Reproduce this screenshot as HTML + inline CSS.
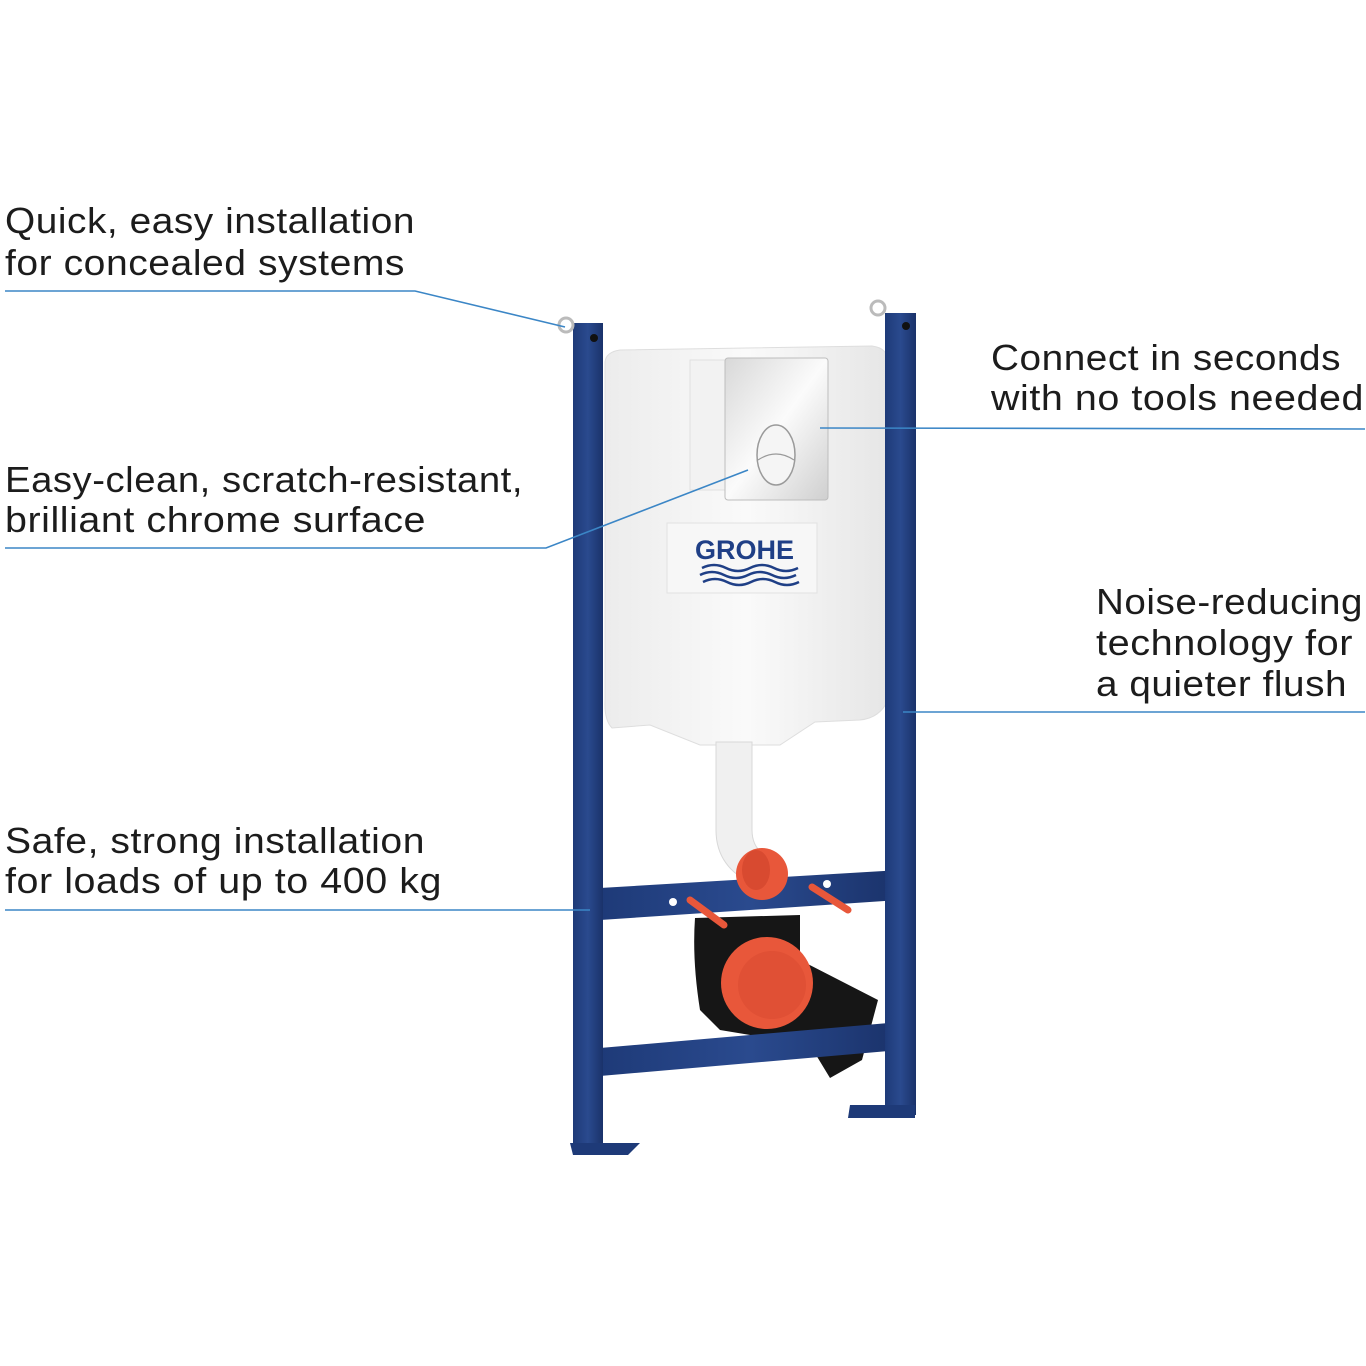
<!DOCTYPE html>
<html><head><meta charset="utf-8"><style>
html,body{margin:0;padding:0;background:#fff;}
svg{display:block;}
text{font-family:"Liberation Sans",sans-serif;font-size:36px;fill:#1c1c1c;letter-spacing:0.5px;}
</style></head><body>
<svg width="1366" height="1366" viewBox="0 0 1366 1366" xmlns="http://www.w3.org/2000/svg">
<rect width="1366" height="1366" fill="#fff"/>
<defs>
<linearGradient id="bar" x1="0" x2="1"><stop offset="0" stop-color="#1e3a78"/><stop offset="0.5" stop-color="#2a4a8e"/><stop offset="1" stop-color="#1a326a"/></linearGradient>
<linearGradient id="cis" x1="0" x2="1"><stop offset="0" stop-color="#ececec"/><stop offset="0.5" stop-color="#fafafa"/><stop offset="1" stop-color="#e6e6e6"/></linearGradient>
<linearGradient id="plate" x1="0" x2="1" y1="0" y2="1"><stop offset="0" stop-color="#d8d8d8"/><stop offset="0.5" stop-color="#fbfbfb"/><stop offset="1" stop-color="#cfcfcf"/></linearGradient>
</defs>
<!-- cistern -->
<path d="M605 362 Q606 352 620 350 L872 346 Q888 348 888 362 L888 700 Q880 718 860 720 L815 722 L780 745 L700 745 L650 725 L612 728 Q604 720 605 700 Z" fill="url(#cis)" stroke="#dedede"/>
<rect x="690" y="360" width="40" height="130" fill="#f2f2f2" stroke="#e0e0e0"/>
<rect x="725" y="358" width="103" height="142" rx="3" fill="url(#plate)" stroke="#bdbdbd"/>
<ellipse cx="776" cy="455" rx="19" ry="30" fill="#f5f5f5" stroke="#9a9a9a" stroke-width="1.5"/>
<path d="M758 460 Q776 448 794 460" fill="none" stroke="#9a9a9a" stroke-width="1.2"/>
<rect x="667" y="523" width="150" height="70" fill="#f7f7f7" stroke="#e2e2e2"/>
<text x="695" y="559" style="font-size:27px;font-weight:bold;fill:#1f3f86;letter-spacing:0">GROHE</text>
<path d="M702 568 q12 -6 24 0 t24 0 t24 0 t24 0 M700 575 q12 -6 24 0 t24 0 t24 0 t24 0 M703 582 q12 -6 24 0 t24 0 t24 0 t24 0" fill="none" stroke="#1f3f86" stroke-width="2.5"/>
<!-- white pipe -->
<path d="M716 742 L752 742 L752 830 Q752 850 770 858 L755 885 Q716 868 716 830 Z" fill="#f0f0f0" stroke="#d8d8d8"/>
<!-- black trap -->
<path d="M695 918 L800 915 L800 960 L878 1000 L862 1060 L830 1078 L810 1045 L720 1030 L700 1010 Q692 960 695 918 Z" fill="#161616"/>
<circle cx="767" cy="983" r="46" fill="#e8573a"/>
<circle cx="772" cy="985" r="34" fill="#d84a30" opacity="0.5"/>
<!-- crossbars -->
<polygon points="600,888 900,870 900,900 600,920" fill="url(#bar)"/>
<polygon points="600,1048 900,1022 900,1050 600,1076" fill="url(#bar)"/>
<circle cx="673" cy="902" r="4" fill="#fff"/><circle cx="827" cy="884" r="4" fill="#fff"/>
<!-- orange cup -->
<circle cx="762" cy="874" r="26" fill="#e8573a"/>
<ellipse cx="756" cy="870" rx="14" ry="20" fill="#d84a30"/>
<line x1="690" y1="900" x2="724" y2="925" stroke="#e8573a" stroke-width="7" stroke-linecap="round"/>
<line x1="812" y1="887" x2="848" y2="910" stroke="#e8573a" stroke-width="7" stroke-linecap="round"/>
<!-- vertical bars -->
<rect x="573" y="323" width="30" height="820" fill="url(#bar)"/>
<rect x="885" y="313" width="31" height="802" fill="url(#bar)"/>
<polygon points="570,1143 640,1143 628,1155 573,1155" fill="#1e3a78"/>
<polygon points="850,1105 915,1105 915,1118 848,1118" fill="#1e3a78"/>
<circle cx="594" cy="338" r="4" fill="#111"/><circle cx="906" cy="326" r="4" fill="#111"/>
<circle cx="566" cy="325" r="7" fill="none" stroke="#bbb" stroke-width="3"/>
<circle cx="878" cy="308" r="7" fill="none" stroke="#bbb" stroke-width="3"/>
<!-- leader lines -->
<g fill="none" stroke="#3b86c6" stroke-width="1.6">
<polyline points="5,291 415,291 565,327"/>
<polyline points="5,548 546,548 748,470"/>
<polyline points="5,910 590,910"/>
<polyline points="1365,429 820,428"/>
<polyline points="1365,712 903,712"/>
</g>
<!-- labels -->
<text x="5" y="233" textLength="410" lengthAdjust="spacingAndGlyphs">Quick, easy installation</text>
<text x="5" y="275" textLength="400" lengthAdjust="spacingAndGlyphs">for concealed systems</text>
<text x="5" y="492" textLength="518" lengthAdjust="spacingAndGlyphs">Easy-clean, scratch-resistant,</text>
<text x="5" y="532" textLength="421" lengthAdjust="spacingAndGlyphs">brilliant chrome surface</text>
<text x="5" y="853" textLength="420" lengthAdjust="spacingAndGlyphs">Safe, strong installation</text>
<text x="5" y="893" textLength="437" lengthAdjust="spacingAndGlyphs">for loads of up to 400 kg</text>
<text x="991" y="370" textLength="350" lengthAdjust="spacingAndGlyphs">Connect in seconds</text>
<text x="991" y="410" textLength="373" lengthAdjust="spacingAndGlyphs">with no tools needed</text>
<text x="1096" y="614" textLength="267" lengthAdjust="spacingAndGlyphs">Noise-reducing</text>
<text x="1096" y="655" textLength="257" lengthAdjust="spacingAndGlyphs">technology for</text>
<text x="1096" y="696" textLength="251" lengthAdjust="spacingAndGlyphs">a quieter flush</text>
</svg>
</body></html>
